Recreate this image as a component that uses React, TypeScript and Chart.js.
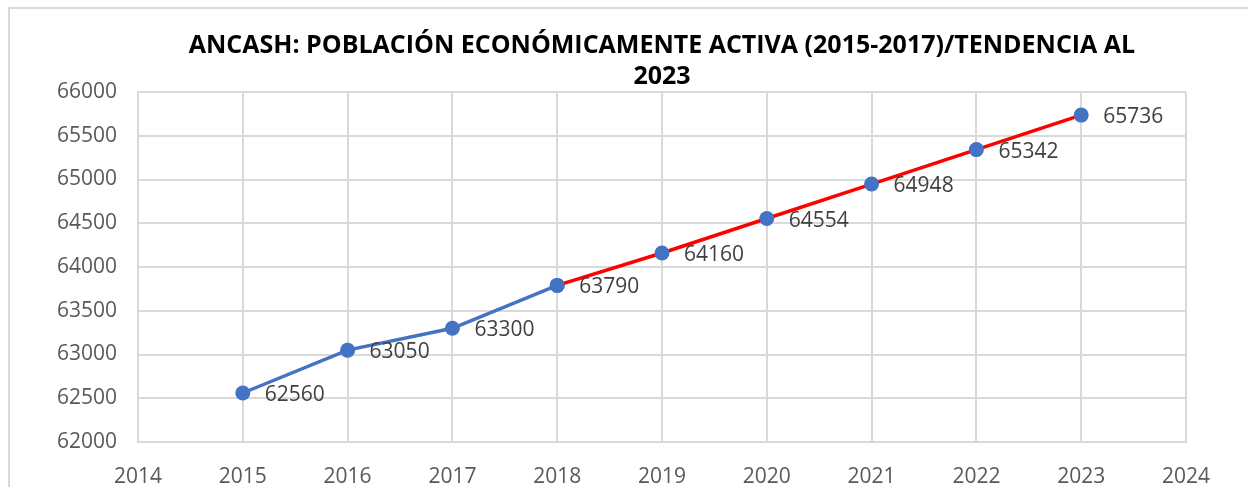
import React, { useEffect, useRef } from "react";
import { Chart, registerables } from "chart.js";

Chart.register(...registerables);

const years = [2015, 2016, 2017, 2018, 2019, 2020, 2021, 2022, 2023];
const values = [62560, 63050, 63300, 63790, 64160, 64554, 64948, 65342, 65736];
const historicalCount = 4; // 2015-2018
const titleLines = [
  "ANCASH: POBLACIÓN ECONÓMICAMENTE ACTIVA (2015-2017)/TENDENCIA AL",
  "2023",
];
const xMin = 2014;
const xMax = 2024;
const yMin = 62000;
const yMax = 66000;
const yStep = 500;

const BLUE = "#4472C4";
const RED = "#FF0000";
const GRID = "#d9d9d9";
const FONT = "'Open Sans', 'Liberation Sans', sans-serif";

const historical = years.slice(0, historicalCount).map((x, i) => ({ x, y: values[i] }));
const trend = years.slice(historicalCount - 1).map((x, i) => ({ x, y: values[i + historicalCount - 1] }));

const framePlugin = {
  id: "frame",
  beforeDraw(chart: any) {
    const { ctx, width, height } = chart;
    ctx.save();
    ctx.fillStyle = "#ffffff";
    ctx.fillRect(0, 0, width, height);
    ctx.strokeStyle = GRID;
    ctx.lineWidth = 2;
    ctx.beginPath();
    ctx.moveTo(9, height);
    ctx.lineTo(9, 8);
    ctx.lineTo(width, 8);
    ctx.stroke();
    ctx.restore();
  },
};

const labelPlugin = {
  id: "valueLabels",
  afterDatasetsDraw(chart: any) {
    const { ctx, scales } = chart;
    ctx.save();
    ctx.fillStyle = "#404040";
    ctx.font = `21px ${FONT}`;
    ctx.textAlign = "left";
    ctx.textBaseline = "middle";
    years.forEach((yr, i) => {
      const px = scales.x.getPixelForValue(yr);
      const py = scales.y.getPixelForValue(values[i]);
      ctx.fillText(String(values[i]), px + 22, py + 2);
    });
    ctx.restore();
  },
};

export default function App() {
  const ref = useRef<HTMLCanvasElement>(null);
  useEffect(() => {
    if (!ref.current) return;
    const chart = new Chart(ref.current, {
      type: "line",
      data: {
        datasets: [
          {
            data: trend,
            borderColor: RED,
            borderWidth: 3.5,
            pointRadius: 7.5,
            pointBackgroundColor: BLUE,
            pointBorderColor: BLUE,
            pointBorderWidth: 0,
            tension: 0,
          },
          {
            data: historical,
            borderColor: BLUE,
            borderWidth: 3.5,
            pointRadius: 7.5,
            pointBackgroundColor: BLUE,
            pointBorderColor: BLUE,
            pointBorderWidth: 0,
            tension: 0,
          },
        ],
      },
      options: {
        animation: false,
        responsive: false,
        maintainAspectRatio: false,
        layout: { padding: { left: 0, right: 62, top: 0, bottom: 0 } },
        plugins: {
          legend: { display: false },
          tooltip: { enabled: false },
          title: {
            display: true,
            text: titleLines,
            fullSize: false,
            color: "#000000",
            font: { family: FONT, size: 25, weight: "bold", lineHeight: 1.24 },
            padding: { top: 30, bottom: 0 },
          },
        },
        scales: {
          x: {
            type: "linear",
            min: xMin,
            max: xMax,
            ticks: {
              stepSize: 1,
              color: "#595959",
              font: { family: FONT, size: 21 },
              padding: 22,
              callback: (v: any) => String(v),
            },
            grid: { color: GRID, lineWidth: 2, drawTicks: false },
            border: { color: GRID, width: 2 },
            afterFit: (s: any) => {
              s.height = 45;
            },
          },
          y: {
            min: yMin,
            max: yMax,
            ticks: {
              stepSize: yStep,
              color: "#595959",
              font: { family: FONT, size: 21 },
              padding: 21,
              callback: (v: any) => String(v),
            },
            grid: { color: GRID, lineWidth: 2, drawTicks: false },
            border: { color: GRID, width: 2 },
            afterFit: (s: any) => {
              s.width = 138;
            },
          },
        },
      },
      plugins: [framePlugin, labelPlugin],
    });
    return () => chart.destroy();
  }, []);
  return (
    <div style={{ position: "fixed", left: 0, top: 0, width: 1248, height: 487 }}>
      <canvas ref={ref} width={1248} height={487} style={{ width: 1248, height: 487 }} />
    </div>
  );
}
